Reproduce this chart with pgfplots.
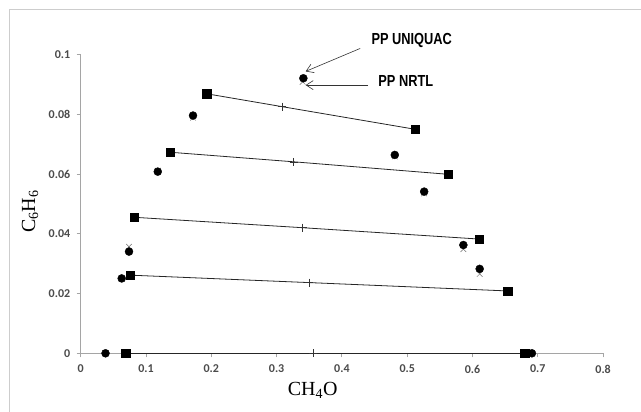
\documentclass[border=0pt]{standalone}
\usepackage{fontspec}
\setmainfont{Liberation Serif}
\newfontfamily\tickfont{Carlito}
\newfontfamily\narrowfont[FakeStretch=0.8]{Liberation Sans}
\usepackage{pgfplots}
\pgfplotsset{compat=1.18}
\usetikzlibrary{arrows.meta}

\definecolor{axisgray}{RGB}{165,165,165}
\definecolor{ticktext}{RGB}{75,75,75}
\definecolor{framegray}{RGB}{205,205,205}
\definecolor{nrtlgray}{RGB}{110,110,110}

\begin{document}
\begin{tikzpicture}[x=1pt,y=1pt]
\useasboundingbox (0,0) rectangle (641,412);
\draw[framegray, line width=1pt] (9.3,0) -- (9.3,402.7) -- (641,402.7);

\begin{axis}[
  at={(80.7pt,58.7pt)}, anchor=south west,
  scale only axis, width=522.4pt, height=298.3pt,
  xmin=0, xmax=0.8, ymin=0, ymax=0.1,
  axis x line*=bottom, axis y line*=left,
  axis line style={axisgray, line width=1.2pt},
  xtick={0,0.1,0.2,0.3,0.4,0.5,0.6,0.7,0.8},
  ytick={0,0.02,0.04,0.06,0.08,0.1},
  scaled ticks=false,
  tick align=outside, major tick length=4pt,
  tick style={axisgray, line width=1pt},
  xticklabel={\pgfmathprintnumber[fixed,precision=2]{\tick}},
  yticklabel={\pgfmathprintnumber[fixed,precision=2]{\tick}},
  /pgf/number format/assume math mode=true,
  ticklabel style={font=\tickfont\bfseries\fontsize{12}{12}\selectfont, text=ticktext},
  xticklabel style={yshift=-4pt},
  yticklabel style={xshift=-3pt},
  xlabel={CH\textsubscript{4}O},
  ylabel={C\textsubscript{6}H\textsubscript{6}},
  label style={font=\fontsize{20}{24}\selectfont},
  xlabel style={at={(axis description cs:0.444,-0.123)}, anchor=center},
  ylabel style={at={(axis description cs:-0.097,0.475)}, anchor=center},
  clip=false,
]

% experimental tie lines (end - feed - end)
\addplot[black!85, line width=0.8pt] coordinates {(0.193,0.0870) (0.308,0.0827) (0.512,0.0751)};
\addplot[black!85, line width=0.8pt] coordinates {(0.137,0.0674) (0.326,0.0642) (0.563,0.0600)};
\addplot[black!85, line width=0.8pt] coordinates {(0.0816,0.0456) (0.340,0.0421) (0.610,0.0383)};
\addplot[black!85, line width=0.8pt] coordinates {(0.0755,0.0262) (0.350,0.0237) (0.654,0.0209)};
\addplot[black!85, line width=0.8pt] coordinates {(0.069,0) (0.356,0) (0.680,0)};

% feed points
\addplot[only marks, mark=+, mark size=4pt, black!80, line width=0.5pt] coordinates {
  (0.308,0.0827) (0.326,0.0642) (0.340,0.0421) (0.350,0.0237) (0.356,0)};

% PP NRTL
\addplot[only marks, mark=x, mark size=4pt, nrtlgray, line width=0.5pt] coordinates {
  (0.038,0) (0.063,0.0250) (0.074,0.0357) (0.118,0.0612) (0.172,0.0790)
  (0.340,0.0910) (0.481,0.0660) (0.526,0.0536) (0.586,0.0349) (0.611,0.0266) (0.688,0)};

% PP UNIQUAC
\addplot[only marks, mark=*, mark size=4pt, black] coordinates {
  (0.038,0) (0.0628,0.0251) (0.074,0.0341) (0.118,0.0609) (0.172,0.0797)
  (0.341,0.0922) (0.481,0.0665) (0.526,0.0542) (0.586,0.0363) (0.611,0.0283) (0.691,0)};

% experimental end points
\addplot[only marks, mark=square*, mark size=4.2pt, black] coordinates {
  (0.193,0.0870) (0.512,0.0751) (0.137,0.0674) (0.563,0.0600)
  (0.0816,0.0456) (0.610,0.0383) (0.0755,0.0262) (0.654,0.0209)
  (0.069,0) (0.680,0)};

% annotations
\draw[black!80, line width=0.6pt, -{Straight Barb[length=7pt,width=9pt]}]
  (axis cs:0.428,0.1022) -- (axis cs:0.3445,0.0945);
\draw[black!80, line width=0.6pt, -{Straight Barb[length=7pt,width=9pt]}]
  (axis cs:0.440,0.0899) -- (axis cs:0.3445,0.0899);
\end{axis}

\node[font=\narrowfont\bfseries\fontsize{16}{16}\selectfont] at (411.7,371.3) {PP UNIQUAC};
\node[font=\narrowfont\bfseries\fontsize{16}{16}\selectfont] at (405.8,331.3) {PP NRTL};
\end{tikzpicture}
\end{document}
